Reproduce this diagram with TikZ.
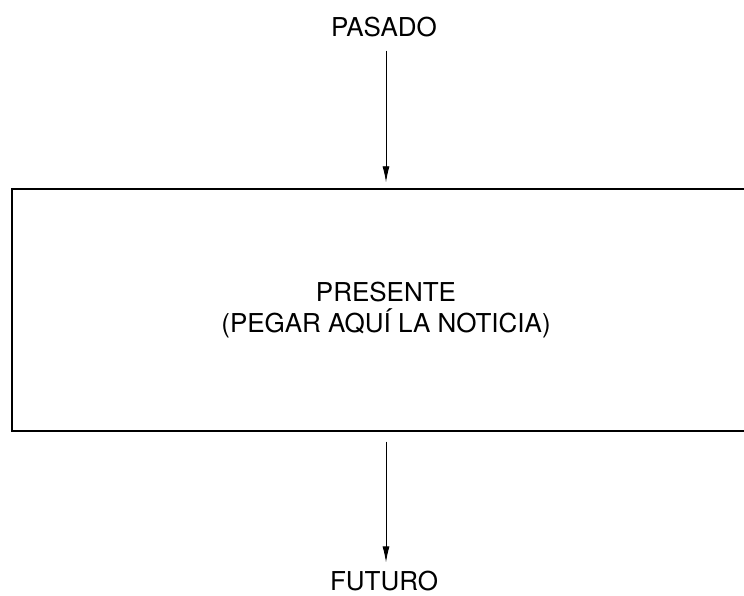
\documentclass[tikz,border=0pt]{standalone}
\usepackage{fontspec}
\setmainfont{TeX Gyre Heros}
\usetikzlibrary{positioning,arrows.meta}

\tikzset{
    tiempo/.style={inner sep=0pt, font=\fontsize{26}{31}\selectfont, align=center},
    caja/.style={draw, line width=1.4pt, minimum width=748pt, minimum height=242pt,
        inner sep=0pt, font=\fontsize{26}{31}\selectfont, align=center},
    flecha/.style={-{Latex[length=16pt,width=7pt]}, line width=0.9pt}
}

\begin{document}
\begin{tikzpicture}[x=1pt,y=-1pt]
    % Frame
    \useasboundingbox (0,0) rectangle (744,596);
    \clip (0,0) rectangle (744,596);

    % Labels
    \node[tiempo, anchor=base] (pasado) at (384,37) {PASADO};
    \node[caja] (presente) at (386,310) {PRESENTE\\(PEGAR AQUÍ LA NOTICIA)};
    \node[tiempo, anchor=base] (futuro) at (384,590) {FUTURO};

    % Arrows
    \draw[flecha, shorten <=13pt, shorten >=6pt] (pasado.south -| presente) -- (presente.north);
    \draw[flecha, shorten <=10pt, shorten >=8pt] (presente.south) -- (futuro.north -| presente);
\end{tikzpicture}
\end{document}
